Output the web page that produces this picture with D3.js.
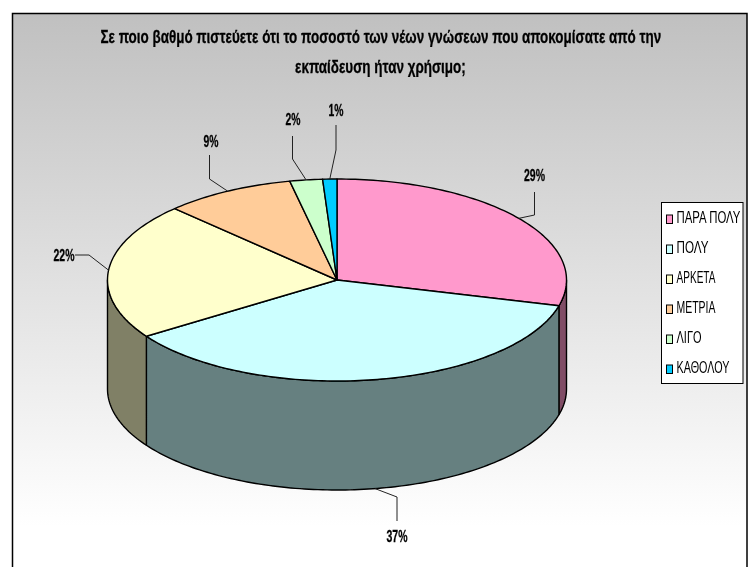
<!DOCTYPE html>
<html><head><meta charset="utf-8">
<script src="https://cdn.jsdelivr.net/npm/d3@7/dist/d3.min.js"></script>
<style>html,body{margin:0;padding:0;background:#fff}svg{display:block}text{font-family:"Liberation Sans",Arial,sans-serif}</style>
</head><body><div id="c"></div>
<script>
const categories=["ΠΑΡΑ ΠΟΛΥ","ΠΟΛΥ","ΑΡΚΕΤΑ","ΜΕΤΡΙΑ","ΛΙΓΟ","ΚΑΘΟΛΟΥ"];
const values=[29.1,36.5,21.9,9.2,2.3,1.0];
const topColors=["#FF99CC","#CCFFFF","#FFFFCC","#FFCC99","#CCFFCC","#00CCFF"];
const wallColors=["#804D66","#668080","#808066","#80664D","#668066","#006680"];
const titleLines=["Σε ποιο βαθμό πιστεύετε ότι το ποσοστό των νέων γνώσεων που αποκομίσατε από την","εκπαίδευση ήταν χρήσιμο;"];

const W=753,H=567;
const svg=d3.select("#c").append("svg").attr("width",W).attr("height",H);
const defs=svg.append("defs");
const g=defs.append("linearGradient").attr("id","bg").attr("x1",0).attr("y1",0).attr("x2",0).attr("y2",1);
g.append("stop").attr("offset",0).attr("stop-color","#c0c0c0");
g.append("stop").attr("offset",0.9).attr("stop-color","#ffffff");
g.append("stop").attr("offset",1).attr("stop-color","#ffffff");
defs.append("filter").attr("id","soft").attr("filterUnits","userSpaceOnUse").attr("x",0).attr("y",0).attr("width",W).attr("height",H)
  .append("feGaussianBlur").attr("stdDeviation",0.35);
svg.append("rect").attr("x",12.5).attr("y",13.5).attr("width",734.5).attr("height",570)
  .attr("fill","url(#bg)").attr("stroke","#000").attr("stroke-width",1.5);
const root=svg.append("g").attr("filter","url(#soft)");

// horizontally condensed real text: fits the natural width to a target width
function fitText(parent,str,x,y,width,size,weight,anchor){
  const t=parent.append("text").attr("dy","0.35em").attr("font-size",size).attr("font-weight",weight).attr("fill","#000").text(str);
  const sx=width/t.node().getComputedTextLength();
  const left=anchor==="middle"?x-width/2:x;
  t.attr("transform",`translate(${left},${y}) scale(${sx},1)`);
  if(weight==="bold")t.attr("stroke","#000").attr("stroke-width",0.3);
  return t;
}

// title
const titleBoxes=[{cx:381,y:37,len:561},{cx:380.5,y:67,len:171}];
titleLines.forEach((s,i)=>fitText(root,s,titleBoxes[i].cx,titleBoxes[i].y,titleBoxes[i].len,18,"bold","middle"));

// pie geometry
const cx=337,cy=280,rx=229.5,ry=101,depth=109;
const px=d3.scaleLinear().domain([-1,1]).range([cx-rx,cx+rx]);
const py=d3.scaleLinear().domain([-1,1]).range([cy-ry,cy+ry]);
const arcs=d3.pie().sort(null).value(d=>d)(values);
const pt=(a,dz=0)=>[px(Math.sin(a)),py(-Math.cos(a))+dz];
function sweep(a0,a1,dz){
  const n=Math.max(2,Math.ceil((a1-a0)/0.02)),out=[];
  for(let i=0;i<=n;i++)out.push(pt(a0+(a1-a0)*i/n,dz));
  return out;
}
const line=d3.line();
const PI=Math.PI;
const pieG=root.append("g");
// side walls: only the part between 90deg and 270deg faces the viewer
arcs.forEach((a,i)=>{
  const s=Math.max(a.startAngle,PI/2),e=Math.min(a.endAngle,3*PI/2);
  if(e<=s)return;
  const pts=sweep(s,e,0).concat(sweep(s,e,depth).reverse());
  pieG.append("path").attr("d",line(pts)+"Z").attr("fill",wallColors[i])
    .attr("stroke","#000").attr("stroke-width",1.4).attr("stroke-linejoin","round");
});
// top faces
arcs.forEach((a,i)=>{
  const pts=[[cx,cy]].concat(sweep(a.startAngle,a.endAngle,0));
  pieG.append("path").attr("d",line(pts)+"Z").attr("fill",topColors[i])
    .attr("stroke","#000").attr("stroke-width",1.4).attr("stroke-linejoin","round");
});

// data labels and leader lines
const pctFmt=d=>Math.round(d)+"%";
const labelLayout=[
 {tx:534.5,ty:175,elbow:[534.5,215],start:[534.5,192]},
 {tx:397,ty:536,elbow:[397,497],start:[397,521]},
 {tx:64,ty:255,elbow:[89,255],start:[75,255]},
 {tx:211,ty:141,elbow:[209.5,179],start:[209.5,155]},
 {tx:293,ty:119,elbow:[292.5,159],start:[292.5,136]},
 {tx:336,ty:110,elbow:[336,150],start:[336,125]}
];
const lblG=root.append("g");
arcs.forEach((a,i)=>{
  const mid=(a.startAngle+a.endAngle)/2,L=labelLayout[i];
  const end=pt(mid,i===1?depth:0);
  lblG.append("path").attr("d",line([L.start,L.elbow,end])).attr("fill","none").attr("stroke","#222").attr("stroke-width",1);
  const s=pctFmt(values[i]);
  fitText(lblG,s,L.tx,L.ty,s.length>2?21:15,16.5,"bold","middle");
});

// legend
const legend=root.append("g");
legend.append("rect").attr("x",661.5).attr("y",202.5).attr("width",81.5).attr("height",181).attr("fill","#fff").attr("stroke","#000").attr("stroke-width",1);
const legY=d3.scalePoint().domain(categories).range([217,367]);
const legLen=[64,32,39,39,25,53];
categories.forEach((c,i)=>{
  legend.append("rect").attr("x",666.5).attr("y",legY(c)-2).attr("width",6).attr("height",8.5).attr("fill",topColors[i]).attr("stroke","#000").attr("stroke-width",1);
  fitText(legend,c,676.5,legY(c),legLen[i],16,"normal","start");
});
</script></body></html>
